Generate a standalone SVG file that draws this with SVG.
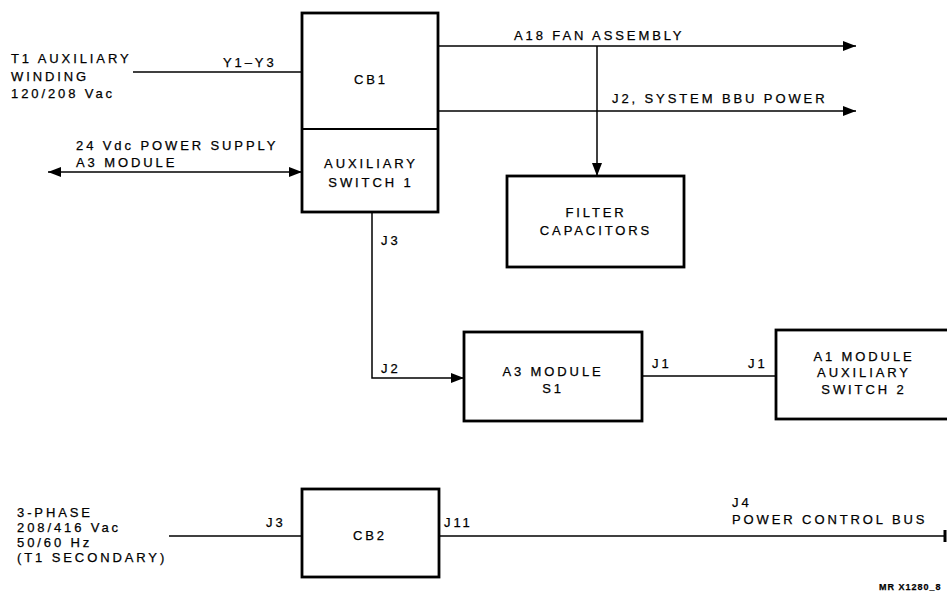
<svg xmlns="http://www.w3.org/2000/svg" width="947" height="595" viewBox="0 0 947 595">
<style>
.box{fill:#fff;stroke:#000;stroke-width:2.8}
.ln{fill:none;stroke:#000;stroke-width:1.5}
text{font-family:"Liberation Sans",Arial,sans-serif;font-size:13px;fill:#000;letter-spacing:2.9px;stroke:#000;stroke-width:0.25}
.c{text-anchor:middle}
.s{font-size:9px;letter-spacing:1px;font-weight:bold}
</style>
<defs>
<marker id="ah" viewBox="0 0 13 10" refX="13" refY="5" markerWidth="13" markerHeight="10" markerUnits="userSpaceOnUse" orient="auto-start-reverse">
<path d="M0,0 L13,5 L0,10 z" fill="#000"/>
</marker>
</defs>
<rect width="947" height="595" fill="#fff"/>
<g id="connectors">
<line class="ln" x1="133" y1="72" x2="302" y2="72"/>
<line class="ln" x1="48" y1="172" x2="302" y2="172" marker-start="url(#ah)" marker-end="url(#ah)"/>
<line class="ln" x1="438" y1="46" x2="856" y2="46" marker-end="url(#ah)"/>
<line class="ln" x1="438" y1="111" x2="856" y2="111" marker-end="url(#ah)"/>
<line class="ln" x1="597" y1="46" x2="597" y2="176" marker-end="url(#ah)"/>
<polyline class="ln" points="372,212 372,378 464,378" marker-end="url(#ah)"/>
<line class="ln" x1="642" y1="376" x2="776" y2="376"/>
<line class="ln" x1="169" y1="536" x2="302" y2="536"/>
<line class="ln" x1="439" y1="536" x2="945" y2="536"/>
<line x1="945" y1="530" x2="945" y2="542" stroke="#000" stroke-width="3"/>
<text x="223" y="67">Y1–Y3</text>
<text x="514" y="40">A18 FAN ASSEMBLY</text>
<text x="612" y="103">J2, SYSTEM BBU POWER</text>
<text x="381" y="245">J3</text>
<text x="381" y="373">J2</text>
<text x="652" y="368">J1</text>
<text x="748" y="368">J1</text>
<text x="266" y="527">J3</text>
<text x="444" y="527">J11</text>
<text x="732" y="507">J4</text>
<text x="732" y="524">POWER CONTROL BUS</text>
</g>
<g id="t1-aux">
<text x="11" y="63">T1 AUXILIARY</text>
<text x="11" y="81">WINDING</text>
<text x="11" y="98">120/208 Vac</text>
</g>
<g id="ps24">
<text x="76" y="150">24 Vdc POWER SUPPLY</text>
<text x="76" y="167">A3 MODULE</text>
</g>
<g id="cb1">
<rect class="box" x="302" y="13" width="136" height="199"/>
<line x1="302" y1="129" x2="438" y2="129" stroke="#000" stroke-width="2"/>
<text class="c" x="371" y="84">CB1</text>
<text class="c" x="371" y="168">AUXILIARY</text>
<text class="c" x="371" y="187">SWITCH 1</text>
</g>
<g id="filter">
<rect class="box" x="507" y="176" width="177" height="91"/>
<text class="c" x="596" y="217">FILTER</text>
<text class="c" x="596" y="235">CAPACITORS</text>
</g>
<g id="a3">
<rect class="box" x="464" y="332" width="178" height="89"/>
<text class="c" x="553" y="376">A3 MODULE</text>
<text class="c" x="553" y="393">S1</text>
</g>
<g id="a1">
<rect class="box" x="776" y="330" width="180" height="89"/>
<text class="c" x="864" y="361">A1 MODULE</text>
<text class="c" x="864" y="377">AUXILIARY</text>
<text class="c" x="864" y="394">SWITCH 2</text>
</g>
<g id="phase3">
<text x="17" y="517">3-PHASE</text>
<text x="17" y="532">208/416 Vac</text>
<text x="17" y="547">50/60 Hz</text>
<text x="17" y="562">(T1 SECONDARY)</text>
</g>
<g id="cb2">
<rect class="box" x="302" y="489" width="137" height="88"/>
<text class="c" x="370" y="540">CB2</text>
</g>
<text class="s" x="879" y="590">MR X1280_8</text>
</svg>
